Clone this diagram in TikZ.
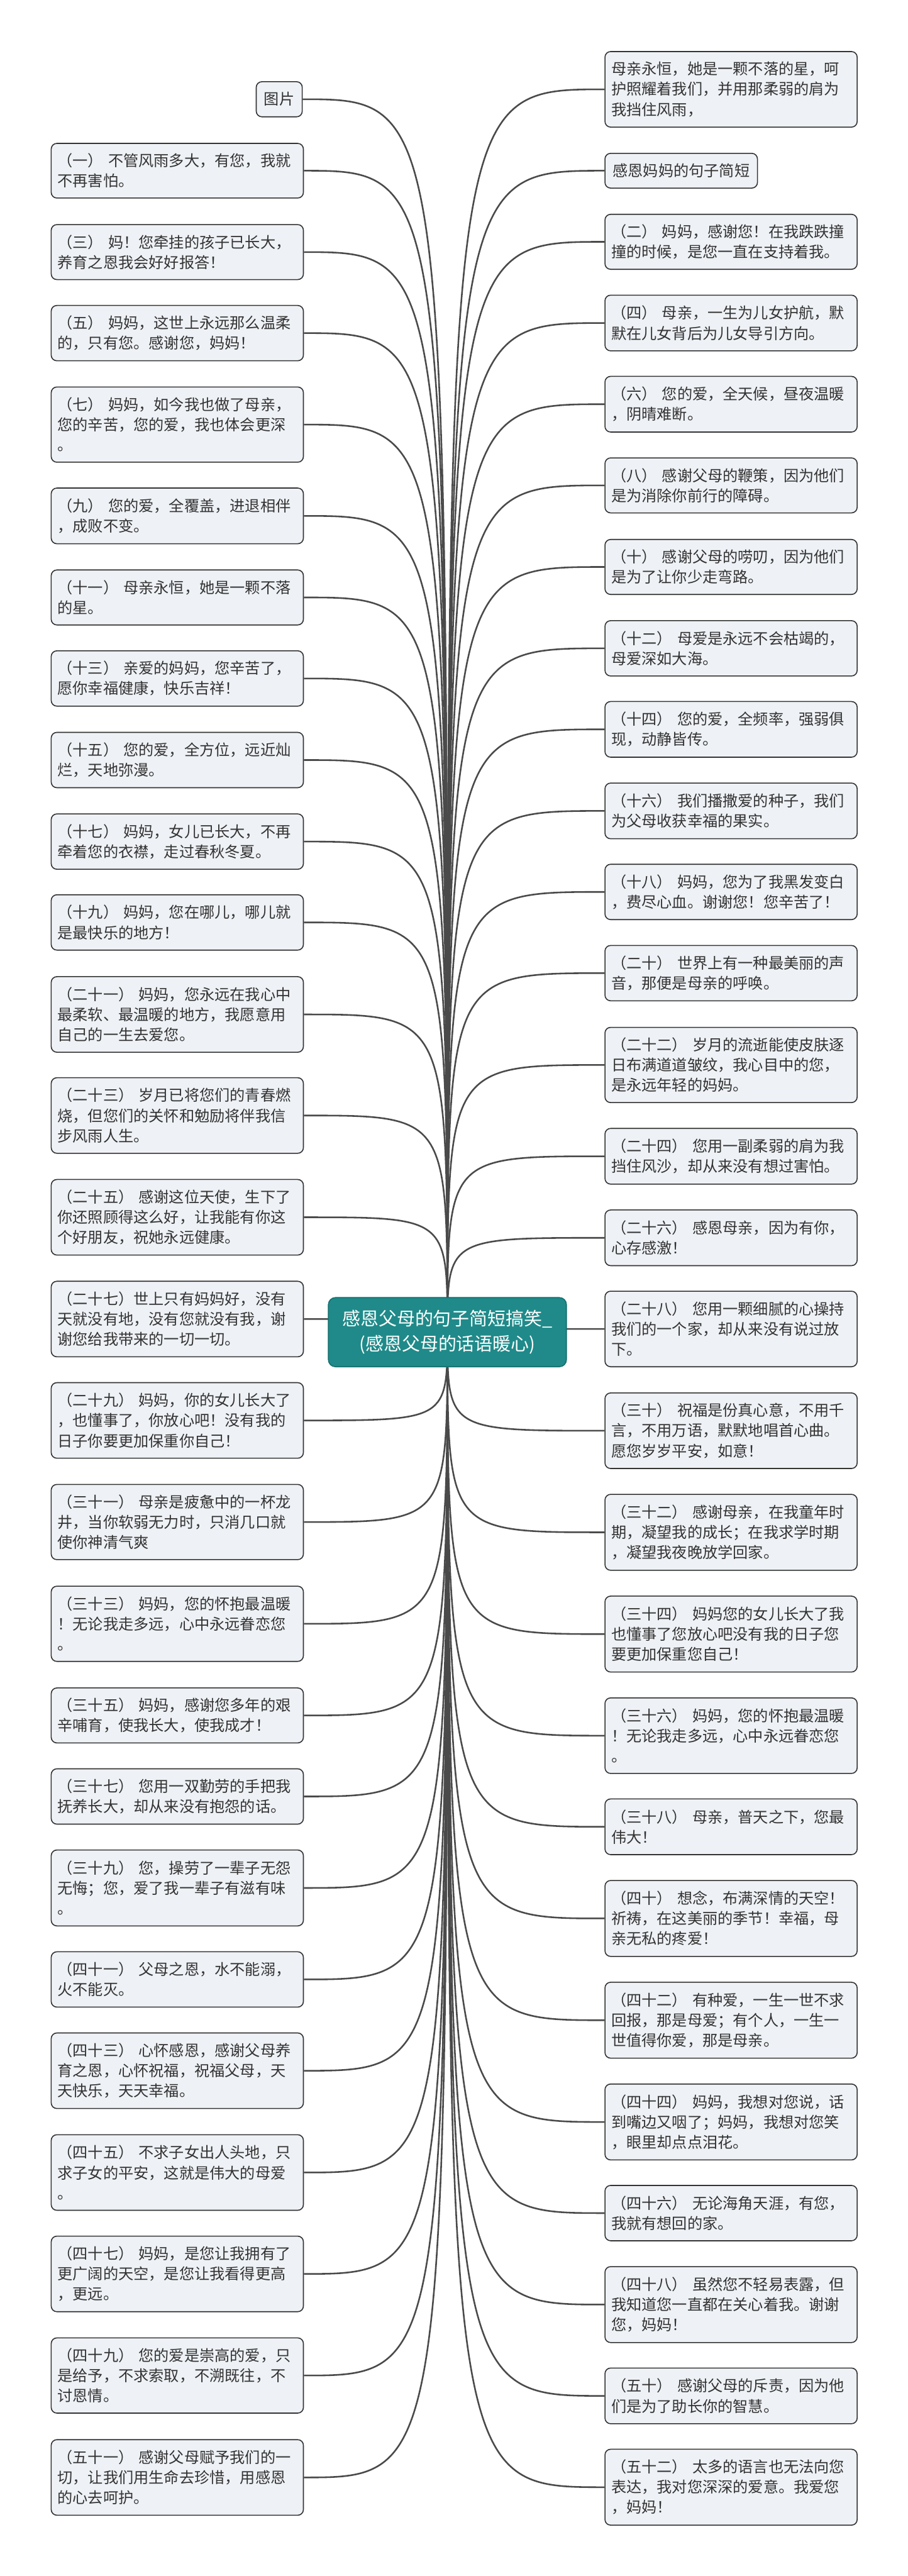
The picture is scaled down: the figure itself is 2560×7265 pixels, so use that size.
\documentclass[tikz,border=0pt]{standalone}
\usepackage{fontspec}
\setmainfont{Noto Sans CJK SC}
\usetikzlibrary{backgrounds}
\definecolor{boxfill}{HTML}{EEF1F5}
\definecolor{boxline}{HTML}{333333}
\definecolor{conncol}{HTML}{4A4A4A}
\definecolor{rootfill}{HTML}{1F8A89}
\definecolor{rootline}{HTML}{15706F}
\definecolor{txt}{HTML}{333333}
\tikzset{
  box/.style={draw=boxline, fill=boxfill, line width=0.8pt, rounded corners=0.16cm,
    text width=6.75cm, align=left, inner xsep=0.18cm, inner ysep=0pt,
    text=txt, font=\fontsize{12.2pt}{16.2pt}\selectfont},
  sbox/.style={draw=boxline, fill=boxfill, line width=0.8pt, rounded corners=0.16cm,
    inner xsep=0.22cm, inner ysep=0pt, text=txt, font=\fontsize{12.2pt}{16.2pt}\selectfont},
  rootbox/.style={draw=rootline, fill=rootfill, line width=0.8pt, rounded corners=0.2cm,
    text=white, align=center, font=\fontsize{14.6pt}{20pt}\selectfont,
    minimum width=6.71cm, minimum height=1.95cm},
  conn/.style={draw=conncol, line width=1.3pt}
}
\newcommand\lbox[4]{\node[box, anchor=north west, minimum height={(#3-#2)*0.284528pt}] (#1) at (143,#2) {#4};}
\newcommand\rbox[4]{\node[box, anchor=north west, minimum height={(#3-#2)*0.284528pt}] (#1) at (1705,#2) {#4};}
\begin{document}
\begin{tikzpicture}[x=0.01cm, y=-0.01cm]
\useasboundingbox (0,0) rectangle (2560,7265);

\node[rootbox] (root) at (1262,3757) {感恩父母的句子简短搞笑\_\\(感恩父母的话语暖心)};

% left column
\node[sbox, anchor=north east, minimum height={99*0.284528pt}] (L0) at (854,229) {图片};
\lbox{L1}{403}{557}{（一） 不管风雨多大，有您，我就\\不再害怕。}
\lbox{L2}{632}{787}{（三） 妈！您牵挂的孩子已长大，\\养育之恩我会好好报答！}
\lbox{L3}{860}{1016}{（五） 妈妈，这世上永远那么温柔\\的，只有您。感谢您，妈妈！}
\lbox{L4}{1090}{1302}{（七） 妈妈，如今我也做了母亲，\\您的辛苦，您的爱，我也体会更深\\。}
\lbox{L5}{1375}{1532}{（九） 您的爱，全覆盖，进退相伴\\，成败不变。}
\lbox{L6}{1606}{1761}{（十一） 母亲永恒，她是一颗不落\\的星。}
\lbox{L7}{1834}{1990}{（十三） 亲爱的妈妈，您辛苦了，\\愿你幸福健康，快乐吉祥！}
\lbox{L8}{2064}{2220}{（十五） 您的爱，全方位，远近灿\\烂，天地弥漫。}
\lbox{L9}{2294}{2450}{（十七） 妈妈，女儿已长大，不再\\牵着您的衣襟，走过春秋冬夏。}
\lbox{L10}{2522}{2678}{（十九） 妈妈，您在哪儿，哪儿就\\是最快乐的地方！}
\lbox{L11}{2753}{2966}{（二十一） 妈妈，您永远在我心中\\最柔软、最温暖的地方，我愿意用\\自己的一生去爱您。}
\lbox{L12}{3038}{3251}{（二十三） 岁月已将您们的青春燃\\烧，但您们的关怀和勉励将伴我信\\步风雨人生。}
\lbox{L13}{3325}{3538}{（二十五） 感谢这位天使，生下了\\你还照顾得这么好，让我能有你这\\个好朋友，祝她永远健康。}
\lbox{L14}{3612}{3825}{（二十七）世上只有妈妈好，没有\\天就没有地，没有您就没有我，谢\\谢您给我带来的一切一切。}
\lbox{L15}{3898}{4111}{（二十九） 妈妈，你的女儿长大了\\，也懂事了，你放心吧！没有我的\\日子你要更加保重你自己！}
\lbox{L16}{4185}{4397}{（三十一） 母亲是疲惫中的一杯龙\\井，当你软弱无力时，只消几口就\\使你神清气爽}
\lbox{L17}{4472}{4684}{（三十三） 妈妈，您的怀抱最温暖\\！无论我走多远，心中永远眷恋您\\。}
\lbox{L18}{4759}{4914}{（三十五） 妈妈，感谢您多年的艰\\辛哺育，使我长大，使我成才！}
\lbox{L19}{4987}{5143}{（三十七） 您用一双勤劳的手把我\\抚养长大，却从来没有抱怨的话。}
\lbox{L20}{5216}{5430}{（三十九） 您，操劳了一辈子无怨\\无悔；您，爱了我一辈子有滋有味\\。}
\lbox{L21}{5503}{5659}{（四十一） 父母之恩，水不能溺，\\火不能灭。}
\lbox{L22}{5732}{5945}{（四十三） 心怀感恩，感谢父母养\\育之恩，心怀祝福，祝福父母，天\\天快乐，天天幸福。}
\lbox{L23}{6019}{6232}{（四十五） 不求子女出人头地，只\\求子女的平安，这就是伟大的母爱\\。}
\lbox{L24}{6305}{6518}{（四十七） 妈妈，是您让我拥有了\\更广阔的天空，是您让我看得更高\\，更远。}
\lbox{L25}{6592}{6804}{（四十九） 您的爱是崇高的爱，只\\是给予，不求索取，不溯既往，不\\讨恩情。}
\lbox{L26}{6879}{7092}{（五十一） 感谢父母赋予我们的一\\切，让我们用生命去珍惜，用感恩\\的心去呵护。}

% right column
\rbox{R0}{144}{357}{母亲永恒，她是一颗不落的星，呵\\护照耀着我们，并用那柔弱的肩为\\我挡住风雨，}
\node[sbox, anchor=north west, minimum height={98*0.284528pt}] (R1) at (1705,431) {感恩妈妈的句子简短};
\rbox{R2}{603}{758}{（二） 妈妈，感谢您！在我跌跌撞\\撞的时候，是您一直在支持着我。}
\rbox{R3}{831}{988}{（四） 母亲，一生为儿女护航，默\\默在儿女背后为儿女导引方向。}
\rbox{R4}{1060}{1217}{（六） 您的爱，全天候，昼夜温暖\\，阴晴难断。}
\rbox{R5}{1290}{1445}{（八） 感谢父母的鞭策，因为他们\\是为消除你前行的障碍。}
\rbox{R6}{1520}{1675}{（十） 感谢父母的唠叨，因为他们\\是为了让你少走弯路。}
\rbox{R7}{1749}{1905}{（十二） 母爱是永远不会枯竭的，\\母爱深如大海。}
\rbox{R8}{1977}{2134}{（十四） 您的爱，全频率，强弱俱\\现，动静皆传。}
\rbox{R9}{2207}{2364}{（十六） 我们播撒爱的种子，我们\\为父母收获幸福的果实。}
\rbox{R10}{2436}{2592}{（十八） 妈妈，您为了我黑发变白\\，费尽心血。谢谢您！您辛苦了！}
\rbox{R11}{2665}{2821}{（二十） 世界上有一种最美丽的声\\音，那便是母亲的呼唤。}
\rbox{R12}{2896}{3108}{（二十二） 岁月的流逝能使皮肤逐\\日布满道道皱纹，我心目中的您，\\是永远年轻的妈妈。}
\rbox{R13}{3181}{3338}{（二十四） 您用一副柔弱的肩为我\\挡住风沙，却从来没有想过害怕。}
\rbox{R14}{3411}{3568}{（二十六） 感恩母亲，因为有你，\\心存感激！}
\rbox{R15}{3640}{3853}{（二十八） 您用一颗细腻的心操持\\我们的一个家，却从来没有说过放\\下。}
\rbox{R16}{3927}{4140}{（三十） 祝福是份真心意，不用千\\言，不用万语，默默地唱首心曲。\\愿您岁岁平安，如意！}
\rbox{R17}{4213}{4427}{（三十二） 感谢母亲，在我童年时\\期，凝望我的成长；在我求学时期\\，凝望我夜晚放学回家。}
\rbox{R18}{4500}{4714}{（三十四） 妈妈您的女儿长大了我\\也懂事了您放心吧没有我的日子您\\要更加保重您自己！}
\rbox{R19}{4787}{5000}{（三十六） 妈妈，您的怀抱最温暖\\！无论我走多远，心中永远眷恋您\\。}
\rbox{R20}{5072}{5229}{（三十八） 母亲，普天之下，您最\\伟大！}
\rbox{R21}{5302}{5516}{（四十） 想念，布满深情的天空！\\祈祷，在这美丽的季节！幸福，母\\亲无私的疼爱！}
\rbox{R22}{5589}{5803}{（四十二） 有种爱，一生一世不求\\回报，那是母爱；有个人，一生一\\世值得你爱，那是母亲。}
\rbox{R23}{5876}{6090}{（四十四） 妈妈，我想对您说，话\\到嘴边又咽了；妈妈，我想对您笑\\，眼里却点点泪花。}
\rbox{R24}{6162}{6318}{（四十六） 无论海角天涯，有您，\\我就有想回的家。}
\rbox{R25}{6391}{6605}{（四十八） 虽然您不轻易表露，但\\我知道您一直都在关心着我。谢谢\\您，妈妈！}
\rbox{R26}{6677}{6834}{（五十） 感谢父母的斥责，因为他\\们是为了助长你的智慧。}
\rbox{R27}{6906}{7120}{（五十二） 太多的语言也无法向您\\表达，我对您深深的爱意。我爱您\\，妈妈！}

\begin{scope}[on background layer]
\fill[white] (0,0) rectangle (2560,7265);
\foreach \n in {L0,L1,L2,L3,L4,L5,L6,L7,L8,L9,L10,L11,L12,L13,L14,L15,L16,L17,L18,L19,L20,L21,L22,L23,L24,L25,L26}{
  \draw[conn] (root.center) .. controls (root.center |- \n.east) .. (\n.east);
}
\foreach \n in {R0,R1,R2,R3,R4,R5,R6,R7,R8,R9,R10,R11,R12,R13,R14,R15,R16,R17,R18,R19,R20,R21,R22,R23,R24,R25,R26,R27}{
  \draw[conn] (root.center) .. controls (root.center |- \n.west) .. (\n.west);
}
\end{scope}
\end{tikzpicture}
\end{document}
